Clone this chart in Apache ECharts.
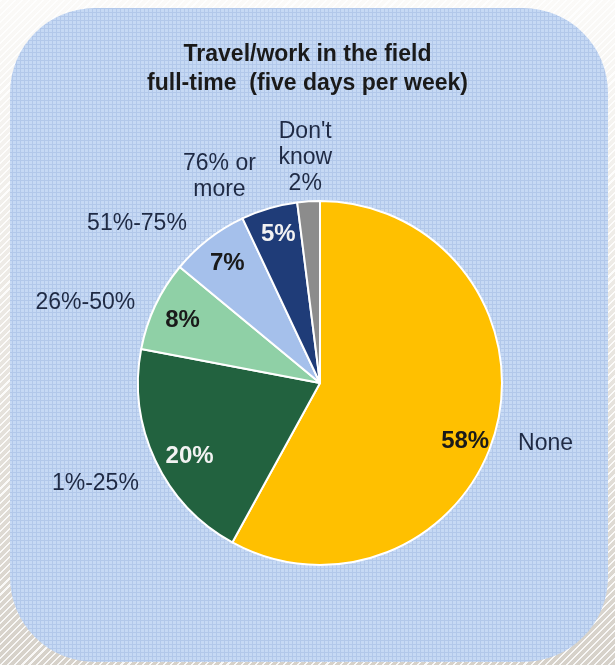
<!DOCTYPE html>
<html>
<head>
<meta charset="utf-8">
<script src="https://cdn.jsdelivr.net/npm/echarts@6/dist/echarts.min.js"></script>
<style>
html, body { margin: 0; padding: 0; }
body {
  width: 615px; height: 665px; overflow: hidden;
  background:
    repeating-linear-gradient(135deg, rgba(255,255,255,0.85) 0px, rgba(255,255,255,0.85) 1.5px, rgba(255,255,255,0) 1.5px, rgba(255,255,255,0) 5px),
    linear-gradient(180deg, #fbfaf8 0%, #ece9e4 45%, #d6d1c9 100%);
}
#chart { width: 615px; height: 665px; }
</style>
</head>
<body>
<div id="chart"></div>
<script>
// ---- data ----
var titleLines = ["Travel/work in the field", "full-time  (five days per week)"];
var categories = ["None", "1%-25%", "26%-50%", "51%-75%", "76% or more", "Don't know"];
var values = [58, 20, 8, 7, 5, 2];
var nameLabels = ["None", "1%-25%", "26%-50%", "51%-75%", "76% or\nmore", "Don't\nknow\n2%"];
var showPercentInside = [true, true, true, true, true, false];

// ---- styles / label nudges ----
var sliceColors = ["#FFC000", "#22623F", "#8FD0A6", "#A5C0EB", "#1F3C78", "#8C8C8C"];
var percentColors = ["#1a1a1a", "#F2F2F2", "#1a1a1a", "#1a1a1a", "#F2F2F2", "#1a1a1a"];
var percentOffsets = [[-3, 20], [8, 8], [1, 3], [1, 1], [1, -2], [0, 0]];
var nameOffsets = [[-2, 2], [-12, 1], [-22, 20], [-39, 26], [-35, 19], [0, 9]];
var FONT = "'Liberation Sans', Arial, sans-serif";

// grid pattern for panel
var pc = document.createElement('canvas');
pc.width = 4; pc.height = 4;
var pctx = pc.getContext('2d');
pctx.fillStyle = '#C6D9F4';
pctx.fillRect(0, 0, 4, 4);
pctx.fillStyle = '#B2C8EA';
pctx.fillRect(0, 0, 4, 1);
pctx.fillRect(0, 0, 1, 4);

var chart = echarts.init(document.getElementById('chart'), null, { renderer: 'canvas' });

var center = [320, 383];

var mainData = categories.map(function (c, i) {
  return { name: c, value: values[i], itemStyle: { color: sliceColors[i] } };
});
var pctData = categories.map(function (c, i) {
  return {
    name: c, value: values[i],
    label: { show: showPercentInside[i], color: percentColors[i], offset: percentOffsets[i] }
  };
});
var nameData = categories.map(function (c, i) {
  return { name: c, value: values[i], label: { formatter: nameLabels[i], offset: nameOffsets[i] } };
});

chart.setOption({
  animation: false,
  graphic: [{
    type: 'rect',
    z: -10,
    silent: true,
    shape: { x: 10, y: 8, width: 598, height: 654, r: 85 },
    style: { fill: { image: pc, repeat: 'repeat' } }
  }],
  title: {
    text: titleLines.join('\n'),
    left: 'center',
    top: 40,
    padding: 0,
    itemGap: 0,
    textStyle: {
      fontFamily: FONT, fontSize: 23, fontWeight: 'bold', color: '#1a1a1a', lineHeight: 29
    }
  },
  series: [
    {
      type: 'pie',
      center: center,
      radius: 182,
      startAngle: 90,
      clockwise: true,
      silent: true,
      data: mainData,
      itemStyle: { borderColor: '#ffffff', borderWidth: 2 },
      label: { show: false },
      labelLine: { show: false },
      emphasis: { disabled: true }
    },
    {
      type: 'pie',
      center: center,
      radius: [118, 182],
      startAngle: 90,
      clockwise: true,
      silent: true,
      data: pctData,
      itemStyle: { color: 'rgba(0,0,0,0)' },
      label: {
        show: true, position: 'inside', formatter: '{c}%',
        fontFamily: FONT, fontSize: 24, fontWeight: 'bold'
      },
      labelLine: { show: false },
      emphasis: { disabled: true }
    },
    {
      type: 'pie',
      center: center,
      radius: [0, 464],
      startAngle: 90,
      clockwise: true,
      silent: true,
      minShowLabelAngle: 0,
      data: nameData,
      itemStyle: { color: 'rgba(0,0,0,0)' },
      labelLayout: { hideOverlap: false },
      label: {
        show: true, position: 'inside',
        fontFamily: FONT, fontSize: 23, color: '#1F2A44', lineHeight: 26, align: 'center'
      },
      labelLine: { show: false },
      emphasis: { disabled: true }
    }
  ]
});
</script>
</body>
</html>
